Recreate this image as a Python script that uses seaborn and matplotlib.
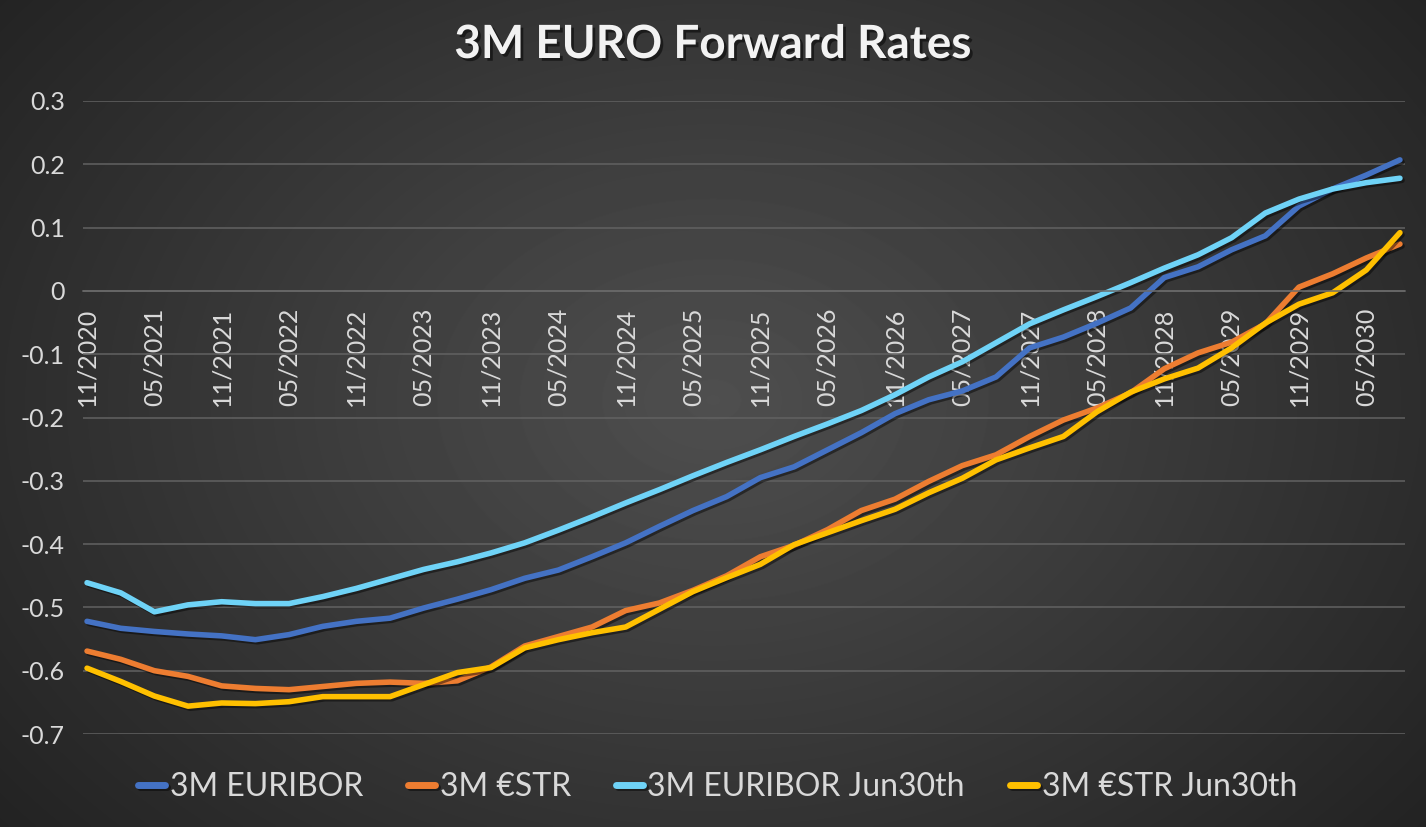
import numpy as np
import pandas as pd
import matplotlib
matplotlib.use("Agg")
import matplotlib.pyplot as plt
import matplotlib.patheffects as pe
import seaborn as sns

# quarterly forward dates
quarters = ["11/2020",
            "02/2021", "05/2021", "08/2021", "11/2021",
            "02/2022", "05/2022", "08/2022", "11/2022",
            "02/2023", "05/2023", "08/2023", "11/2023",
            "02/2024", "05/2024", "08/2024", "11/2024",
            "02/2025", "05/2025", "08/2025", "11/2025",
            "02/2026", "05/2026", "08/2026", "11/2026",
            "02/2027", "05/2027", "08/2027", "11/2027",
            "02/2028", "05/2028", "08/2028", "11/2028",
            "02/2029", "05/2029", "08/2029", "11/2029",
            "02/2030", "05/2030", "08/2030"]

euribor = [-0.522, -0.533, -0.538, -0.542, -0.545, -0.551, -0.543, -0.530, -0.522, -0.517,
           -0.501, -0.487, -0.472, -0.454, -0.441, -0.420, -0.398, -0.372, -0.347, -0.325,
           -0.295, -0.278, -0.251, -0.224, -0.194, -0.172, -0.158, -0.136, -0.090, -0.073,
           -0.051, -0.027, 0.021, 0.038, 0.065, 0.087, 0.134, 0.161, 0.183, 0.207]
estr = [-0.569, -0.582, -0.600, -0.609, -0.624, -0.628, -0.630, -0.625, -0.620, -0.618,
        -0.620, -0.616, -0.594, -0.561, -0.546, -0.531, -0.505, -0.493, -0.473, -0.450,
        -0.420, -0.402, -0.377, -0.347, -0.329, -0.301, -0.276, -0.259, -0.230, -0.204,
        -0.185, -0.161, -0.123, -0.098, -0.081, -0.052, 0.006, 0.027, 0.052, 0.074]
euribor_jun30 = [-0.461, -0.477, -0.507, -0.496, -0.491, -0.494, -0.494, -0.483, -0.470, -0.455,
                 -0.440, -0.428, -0.414, -0.398, -0.378, -0.357, -0.335, -0.314, -0.292, -0.271,
                 -0.251, -0.230, -0.210, -0.189, -0.164, -0.136, -0.112, -0.082, -0.052, -0.030,
                 -0.009, 0.013, 0.036, 0.057, 0.084, 0.123, 0.145, 0.161, 0.171, 0.178]
estr_jun30 = [-0.596, -0.617, -0.640, -0.656, -0.651, -0.652, -0.649, -0.641, -0.641, -0.641,
              -0.622, -0.603, -0.595, -0.564, -0.551, -0.540, -0.531, -0.503, -0.475, -0.453,
              -0.432, -0.401, -0.382, -0.363, -0.345, -0.319, -0.296, -0.267, -0.248, -0.230,
              -0.191, -0.160, -0.139, -0.122, -0.090, -0.051, -0.021, -0.003, 0.033, 0.092]

series_names = ["3M EURIBOR", "3M €STR", "3M EURIBOR Jun30th", "3M €STR Jun30th"]
colors = ["#4472C4", "#ED7D31", "#6FD3F7", "#FFC000"]
yticks = [-0.7, -0.6, -0.5, -0.4, -0.3, -0.2, -0.1, 0, 0.1, 0.2, 0.3]

df = pd.DataFrame({"x": np.arange(len(quarters)),
                   series_names[0]: euribor,
                   series_names[1]: estr,
                   series_names[2]: euribor_jun30,
                   series_names[3]: estr_jun30})
long_df = df.melt(id_vars="x", var_name="series", value_name="rate")

sns.set_style("dark")
plt.rcParams['font.family'] = ['Lato', 'DejaVu Sans']
plt.rcParams['axes.unicode_minus'] = False

fig = plt.figure(figsize=(14.26, 8.27), dpi=100)

# radial gradient background
bg = fig.add_axes([0, 0, 1, 1], zorder=-10)
h, w = 827, 1426
yy, xx = np.mgrid[0:h, 0:w]
r = np.sqrt(((xx - 713) / 713.0) ** 2 + ((yy - 400) / 520.0) ** 2)
shade = np.clip(0.31 - 0.135 * r, 0.12, 1)
bg.imshow(shade, cmap="gray", vmin=0, vmax=1, aspect="auto", interpolation="bilinear")
bg.axis("off")

ax = fig.add_axes([83 / 1426, 1 - 734 / 827, (1405 - 83) / 1426, (734 - 101) / 827], zorder=1)
ax.set_facecolor("none")

sns.lineplot(data=long_df, x="x", y="rate", hue="series", hue_order=series_names,
             palette=colors, lw=4.0, ax=ax, sort=False)

shadow = [pe.SimpleLineShadow(offset=(1.5, -1.5), shadow_color="black", alpha=0.45), pe.Normal()]
for line in ax.lines:
    line.set_solid_capstyle("round")
    line.set_solid_joinstyle("round")
    line.set_path_effects(shadow)

ax.set_xlim(-0.12, 39.15)
ax.set_ylim(-0.7, 0.3)
ax.set_yticks(yticks)
ax.set_yticklabels([f"{v:g}" for v in yticks])
ax.set_xticks(np.arange(len(quarters)))
ax.set_xticklabels([q if i % 2 == 0 else "" for i, q in enumerate(quarters)])
ax.set_xlabel("")
ax.set_ylabel("")

ax.grid(axis="y", color="#626262", lw=1.1)
ax.grid(axis="x", visible=False)
for s in ["top", "right", "left"]:
    ax.spines[s].set_visible(False)
ax.spines["bottom"].set_position(("data", 0))
ax.spines["bottom"].set_color("#6a6a6a")
ax.spines["bottom"].set_linewidth(1.1)
ax.tick_params(axis="x", direction="in", length=6, width=1, color="#6a6a6a",
               pad=12, labelsize=18, labelcolor="#d9d9d9", labelrotation=90)
ax.tick_params(axis="y", length=0, pad=13, labelsize=18, labelcolor="#d9d9d9")

handles, labels = ax.get_legend_handles_labels()
ax.legend_.remove()
for hd in handles:
    hd.set_linewidth(5)
    hd.set_solid_capstyle("round")
fig.legend(handles, labels, loc="center", bbox_to_anchor=(0.503, 0.048), ncol=4,
           frameon=False, fontsize=23, labelcolor="#d9d9d9", handlelength=0.85,
           handletextpad=0.15, columnspacing=1.4)

fig.text(0.5, 1 - 45 / 827, "3M EURO Forward Rates", ha="center", va="center",
         fontsize=33, fontweight="bold", color="#f2f2f2",
         path_effects=[pe.withSimplePatchShadow(offset=(2, -2), shadow_rgbFace="black", alpha=0.5)])

fig.savefig("out.png", dpi=100)
